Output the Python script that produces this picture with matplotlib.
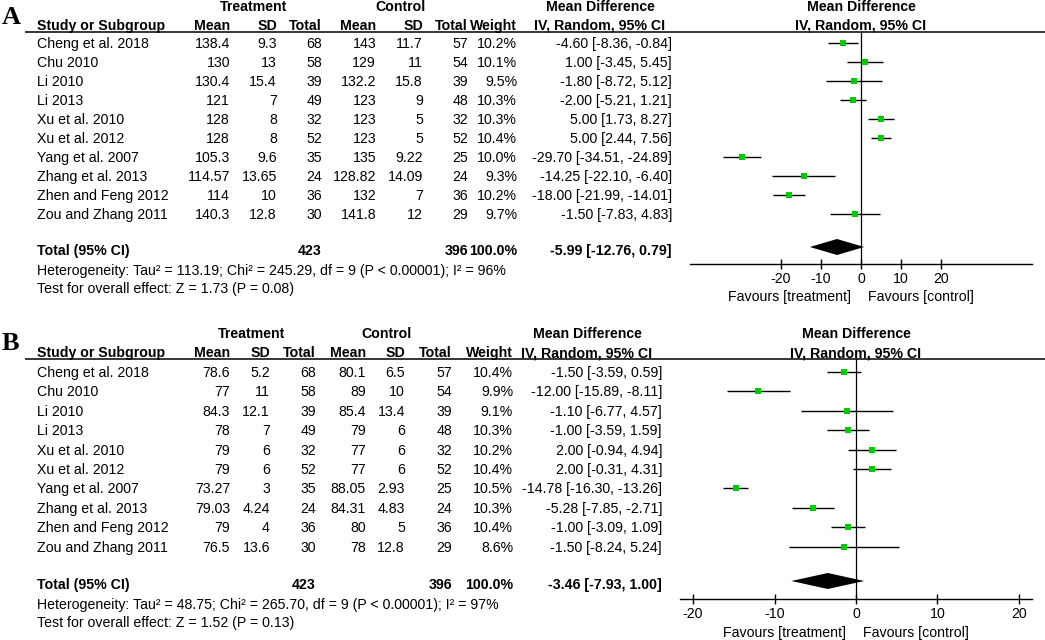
import matplotlib
matplotlib.use("Agg")
import matplotlib.pyplot as plt
from matplotlib.transforms import blended_transform_factory, offset_copy

plt.rcParams['font.family'] = ['Liberation Sans', 'DejaVu Sans']

W, H = 1045, 640

studies = ["Cheng et al. 2018", "Chu 2010", "Li 2010", "Li 2013", "Xu et al. 2010",
           "Xu et al. 2012", "Yang et al. 2007", "Zhang et al. 2013",
           "Zhen and Feng 2012", "Zou and Zhang 2011"]
treat_n = [68, 58, 39, 49, 32, 52, 35, 24, 36, 30]
ctrl_n = [57, 54, 39, 48, 32, 52, 25, 24, 36, 29]
total_weight = 100.0

# panel A
a_t_mean = ["138.4", "130", "130.4", "121", "128", "128", "105.3", "114.57", "114", "140.3"]
a_t_sd = ["9.3", "13", "15.4", "7", "8", "8", "9.6", "13.65", "10", "12.8"]
a_c_mean = ["143", "129", "132.2", "123", "123", "123", "135", "128.82", "132", "141.8"]
a_c_sd = ["11.7", "11", "15.8", "9", "5", "5", "9.22", "14.09", "7", "12"]
a_weight = [10.2, 10.1, 9.5, 10.3, 10.3, 10.4, 10.0, 9.3, 10.2, 9.7]
a_md = [-4.60, 1.00, -1.80, -2.00, 5.00, 5.00, -29.70, -14.25, -18.00, -1.50]
a_lo = [-8.36, -3.45, -8.72, -5.21, 1.73, 2.44, -34.51, -22.10, -21.99, -7.83]
a_hi = [-0.84, 5.45, 5.12, 1.21, 8.27, 7.56, -24.89, -6.40, -14.01, 4.83]
a_total = (-5.99, -12.76, 0.79)
a_het = "Heterogeneity: Tau² = 113.19; Chi² = 245.29, df = 9 (P < 0.00001); I² = 96%"
a_test = "Test for overall effect: Z = 1.73 (P = 0.08)"
a_ticks = [-20, -10, 0, 10, 20]

# panel B
b_t_mean = ["78.6", "77", "84.3", "78", "79", "79", "73.27", "79.03", "79", "76.5"]
b_t_sd = ["5.2", "11", "12.1", "7", "6", "6", "3", "4.24", "4", "13.6"]
b_c_mean = ["80.1", "89", "85.4", "79", "77", "77", "88.05", "84.31", "80", "78"]
b_c_sd = ["6.5", "10", "13.4", "6", "6", "6", "2.93", "4.83", "5", "12.8"]
b_weight = [10.4, 9.9, 9.1, 10.3, 10.2, 10.4, 10.5, 10.3, 10.4, 8.6]
b_md = [-1.50, -12.00, -1.10, -1.00, 2.00, 2.00, -14.78, -5.28, -1.00, -1.50]
b_lo = [-3.59, -15.89, -6.77, -3.59, -0.94, -0.31, -16.30, -7.85, -3.09, -8.24]
b_hi = [0.59, -8.11, 4.57, 1.59, 4.94, 4.31, -13.26, -2.71, 1.09, 5.24]
b_total = (-3.46, -7.93, 1.00)
b_het = "Heterogeneity: Tau² = 48.75; Chi² = 265.70, df = 9 (P < 0.00001); I² = 97%"
b_test = "Test for overall effect: Z = 1.52 (P = 0.13)"
b_ticks = [-20, -10, 0, 10, 20]

FS = 10.2
fig = plt.figure(figsize=(W / 100, H / 100), dpi=100)
bg = fig.add_axes([0, 0, 1, 1])
bg.set_xlim(0, W)
bg.set_ylim(H, 0)
bg.axis('off')


def txt(x, y, s, ha='left', bold=False, **kw):
    # y is the visual middle of the capitals
    bg.text(x, y + 5, s, ha=ha, va='baseline', fontsize=FS,
            fontweight='bold' if bold else 'normal', **kw)


def panel(letter, top, row0, dy, tot_y, het_y, axis_y, lab_y, cols, ci_head_x,
          t_mean, t_sd, c_mean, c_sd, weight, md, lo, hi, total, het, test,
          xlim, px_range, ticks):
    mx, sx, nx, cmx, csx, cnx, wx, cix = cols
    bg.text(2, top + 11, letter, fontsize=19, fontweight='bold',
            family='Liberation Serif', va='center', ha='left')
    txt((mx + nx) / 2 - 22, top, "Treatment", ha='center', bold=True)
    txt((cmx + cnx) / 2 - 22, top, "Control", ha='center', bold=True)
    txt(ci_head_x, top, "Mean Difference", ha='center', bold=True)
    hy = top + 19
    txt(37, hy, "Study or Subgroup", bold=True)
    for x, s in zip(cols[:-1], ["Mean", "SD", "Total", "Mean", "SD", "Total", "Weight"]):
        txt(x, hy, s, ha='right', bold=True)
    txt(ci_head_x, hy, "IV, Random, 95% CI", ha='center', bold=True)
    line_y = hy + 7
    bg.plot([25, W], [line_y, line_y], color='k', lw=1.1, solid_capstyle='butt')

    for i, name in enumerate(studies):
        y = row0 + dy * i
        txt(37, y, name)
        txt(mx, y, t_mean[i], ha='right')
        txt(sx, y, t_sd[i], ha='right')
        txt(nx, y, str(treat_n[i]), ha='right')
        txt(cmx, y, c_mean[i], ha='right')
        txt(csx, y, c_sd[i], ha='right')
        txt(cnx, y, str(ctrl_n[i]), ha='right')
        txt(wx, y, f"{weight[i]:.1f}%", ha='right')
        txt(cix, y, f"{md[i]:.2f} [{lo[i]:.2f}, {hi[i]:.2f}]", ha='right')

    txt(37, tot_y, "Total (95% CI)", bold=True)
    txt(nx, tot_y, str(sum(treat_n)), ha='right', bold=True)
    txt(cnx, tot_y, str(sum(ctrl_n)), ha='right', bold=True)
    txt(wx, tot_y, f"{total_weight:.1f}%", ha='right', bold=True)
    txt(cix, tot_y, f"{total[0]:.2f} [{total[1]:.2f}, {total[2]:.2f}]", ha='right', bold=True)
    txt(37, het_y, het)
    txt(37, het_y + (het_y - tot_y) - 2, test)

    # forest axes: rows in index units
    x0, x1 = px_range
    ax = fig.add_axes([x0 / W, 1 - axis_y / H, (x1 - x0) / W, (axis_y - line_y) / H])
    i_top = (line_y - row0) / dy
    i_bot = (axis_y - row0) / dy
    ax.set_ylim(i_bot, i_top)
    ax.set_xlim(*xlim)
    ax.patch.set_alpha(0)
    for s in ['top', 'left', 'right']:
        ax.spines[s].set_visible(False)
    ax.spines['bottom'].set_linewidth(1.0)
    ax.set_yticks([])
    ax.set_xticks(ticks)
    ax.set_xticklabels([str(t) for t in ticks])
    ax.tick_params(axis='x', direction='inout', length=7, width=1.0,
                   labelsize=FS, pad=2)
    ax.axvline(0, color='k', lw=0.9)
    rows = list(range(len(studies)))
    ax.hlines(rows, lo, hi, color='k', lw=1.0)
    ax.plot(md, rows, 's', color='#00cc00', ms=3.8, mew=0, clip_on=False, zorder=3)
    ti = (tot_y - 3 - row0) / dy
    h = 8 / dy
    ax.fill([total[1], total[0], total[2], total[0]], [ti, ti - h, ti, ti + h],
            color='k', lw=0)

    tr = blended_transform_factory(ax.transData, bg.transData)
    ax.text(0, top + 5, "Mean Difference", transform=tr, ha='center', va='baseline',
            fontsize=FS, fontweight='bold')
    ax.text(0, hy + 5, "IV, Random, 95% CI", transform=tr, ha='center', va='baseline',
            fontsize=FS, fontweight='bold')
    ax.text(0, lab_y + 5, "Favours [treatment]", ha='right', va='baseline', fontsize=FS,
            transform=offset_copy(tr, fig=fig, x=-7, units='points'))
    ax.text(0, lab_y + 5, "Favours [control]", ha='left', va='baseline', fontsize=FS,
            transform=offset_copy(tr, fig=fig, x=5, units='points'))


panel("A", 6, 43, 19.0, 250, 270, 264, 296,
      (230, 277, 322, 376, 423, 468, 517, 672), 600,
      a_t_mean, a_t_sd, a_c_mean, a_c_sd, a_weight, a_md, a_lo, a_hi, a_total,
      a_het, a_test, (-42.7, 42.7), (690, 1032), a_ticks)

panel("B", 333, 372, 19.4, 584, 604, 599, 632,
      (230, 270, 316, 366, 405, 452, 513, 662), 587,
      b_t_mean, b_t_sd, b_c_mean, b_c_sd, b_weight, b_md, b_lo, b_hi, b_total,
      b_het, b_test, (-21.6, 21.6), (680, 1032), b_ticks)

fig.savefig("out.png", dpi=100)
